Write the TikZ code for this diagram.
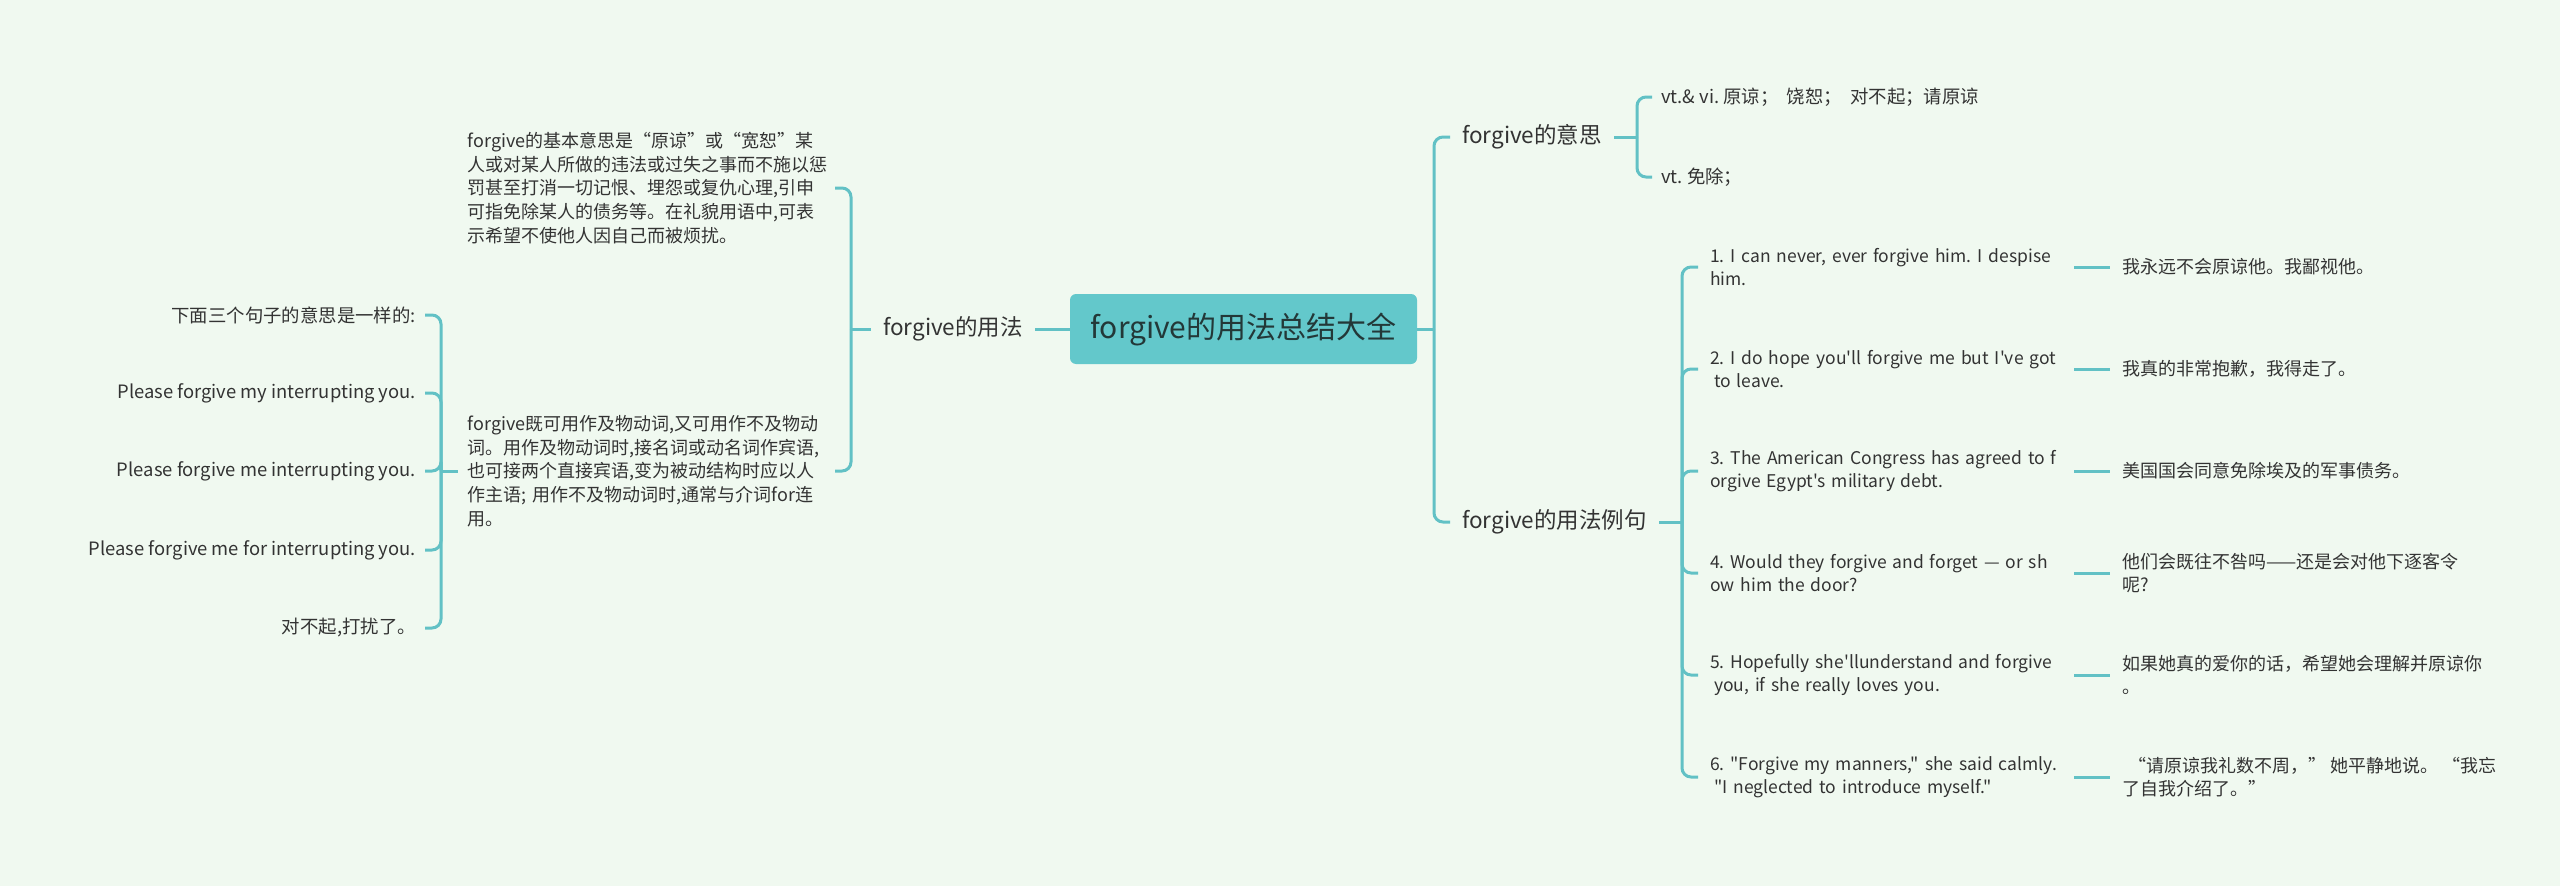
\documentclass[tikz,border=0pt]{standalone}
\usepackage{fontspec}
\newfontfamily\cjk{Noto Sans CJK SC}
\usepackage{tikz}
\usetikzlibrary{positioning, calc}
\definecolor{mapbg}{HTML}{F0F9F0}
\definecolor{mapline}{HTML}{62C1C5}
\definecolor{mapfill}{HTML}{63C8CB}
\definecolor{maptext}{HTML}{333333}
\definecolor{roottext}{HTML}{233838}

\begin{document}
\begin{tikzpicture}[
    x=1pt, y=-1pt,
    font=\cjk, text=maptext,
    root/.style={fill=mapfill, rounded corners=6pt, minimum width=347pt, minimum height=70pt,
      text=roottext, font=\cjk\fontsize{30}{36}\selectfont},
    topic/.style={inner xsep=12pt, inner ysep=2pt, font=\cjk\fontsize{22.5}{27}\selectfont},
    para/.style={align=left, text width=357pt, inner xsep=10pt, font=\cjk\fontsize{18}{23.75}\selectfont},
    leaf/.style={inner xsep=9pt, inner ysep=2pt, font=\cjk\fontsize{18.4}{23}\selectfont,
      execute at begin node=\frenchspacing},
    sent/.style={align=left, text width=352pt, inner xsep=12pt,
      font=\cjk\fontsize{17.5}{22.5}\selectfont,
      execute at begin node={\frenchspacing\hyphenpenalty=10000\relax}},
    trans/.style={align=left, inner xsep=12pt, font=\cjk\fontsize{18}{22.5}\selectfont},
    link/.style={draw=mapline, line width=3pt, rounded corners=9pt}]

  \path[use as bounding box, fill=mapbg] (0,0) rectangle (2560,886);

  \node[root] (root) at (1243.5,329) {forgive的用法总结大全};

  % left half
  \node[topic, anchor=east] (use) at (1035,329) {forgive的用法};
  \coordinate (jl) at (851,329);

  \node[para, anchor=east] (basic) at (835,188) {%
    forgive的基本意思是“原谅”或“宽恕”某\\
    人或对某人所做的违法或过失之事而不施以惩\\
    罚甚至打消一切记恨、埋怨或复仇心理,引申\\
    可指免除某人的债务等。在礼貌用语中,可表\\
    示希望不使他人因自己而被烦扰。};
  \node[para, anchor=east] (verb) at (835,471) {%
    forgive既可用作及物动词,又可用作不及物动\\
    词。用作及物动词时,接名词或动名词作宾语,\\
    也可接两个直接宾语,变为被动结构时应以人\\
    作主语; 用作不及物动词时,通常与介词for连\\
    用。};
  \coordinate (jv) at (441,471);

  \node[leaf, anchor=east] (same)  at (425,315) {下面三个句子的意思是一样的:};
  \node[leaf, anchor=east] (ex1)   at (425,393) {Please forgive my interrupting you.};
  \node[leaf, anchor=east] (ex2)   at (425,471) {Please forgive me interrupting you.};
  \node[leaf, anchor=east] (ex3)   at (425,550) {Please forgive me for interrupting you.};
  \node[leaf, anchor=east] (sorry) at (425,628) {对不起,打扰了。};

  \draw[link] (root.west) -- (use.east);
  \draw[link] (use.west) -- (jl);
  \draw[link] (jl) |- (basic.east);
  \draw[link] (jl) |- (verb.east);
  \draw[link] (verb.west) -- (jv);
  \foreach \n in {same, ex1, ex2, ex3, sorry}
    \draw[link] (jv) |- (\n.east);

  % right half
  \coordinate (jr) at (1434,329);
  \node[topic, anchor=west] (mean) at (1450,137) {forgive的意思};
  \node[topic, anchor=west] (usage) at (1450,522) {forgive的用法例句};
  \coordinate (jm) at (1637,137);
  \coordinate (ju) at (1682,522);

  \node[leaf, anchor=west] (vtvi) at (1652,97) {vt.\& vi. 原谅；\ \ 饶恕；\ \ 对不起；请原谅};
  \node[leaf, anchor=west] (vt)   at (1652,177) {vt. 免除；};

  \node[sent, anchor=west] (s1) at (1698,267) {1. I can never, ever forgive him. I despise\\him.};
  \node[sent, anchor=west] (s2) at (1698,369) {2. I do hope you'll forgive me but I've got\\\hspace{4pt}to leave.};
  \node[sent, anchor=west] (s3) at (1698,471) {3. The American Congress has agreed to f\\orgive Egypt's military debt.};
  \node[sent, anchor=west] (s4) at (1698,573) {4. Would they forgive and forget — or sh\\ow him the door?};
  \node[sent, anchor=west] (s5) at (1698,675) {5. Hopefully she'llunderstand and forgive\\\hspace{4pt}you, if she really loves you.};
  \node[sent, anchor=west] (s6) at (1698,777) {6. "Forgive my manners," she said calmly.\\\hspace{4pt}"I neglected to introduce myself."};

  \node[trans, anchor=west] (t1) at (2110,267) {我永远不会原谅他。我鄙视他。};
  \node[trans, anchor=west] (t2) at (2110,369) {我真的非常抱歉，我得走了。};
  \node[trans, anchor=west] (t3) at (2110,471) {美国国会同意免除埃及的军事债务。};
  \node[trans, anchor=west] (t4) at (2110,573) {他们会既往不咎吗——还是会对他下逐客令\\呢?};
  \node[trans, anchor=west] (t5) at (2110,675) {如果她真的爱你的话，希望她会理解并原谅你\\。};
  \node[trans, anchor=west] (t6) at (2110,777) {\hspace{6pt}“请原谅我礼数不周，”\ 她平静地说。\ “我忘\\了自我介绍了。”};

  \draw[link] (root.east) -- (jr);
  \draw[link] (jr) |- (mean.west);
  \draw[link] (jr) |- (usage.west);
  \draw[link] (mean.east) -- (jm);
  \draw[link] (jm) |- (vtvi.west);
  \draw[link] (jm) |- (vt.west);
  \draw[link] (usage.east) -- (ju);
  \foreach \n in {s1, s2, s3, s4, s5, s6}
    \draw[link] (ju) |- (\n.west);
  \foreach \n/\m in {s1/t1, s2/t2, s3/t3, s4/t4, s5/t5, s6/t6}
    \draw[link] (\n.east) -- (\m.west);
\end{tikzpicture}
\end{document}
